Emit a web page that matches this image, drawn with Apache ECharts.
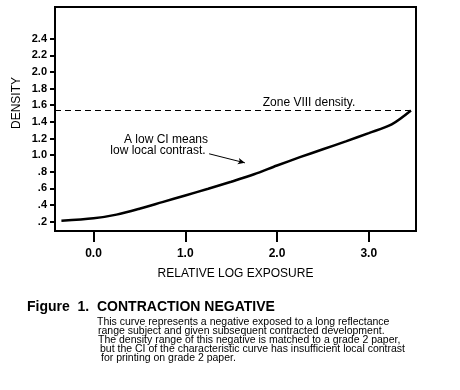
<!DOCTYPE html>
<html><head><meta charset="utf-8">
<script src="https://cdn.jsdelivr.net/npm/echarts@6/dist/echarts.min.js"></script>
<style>html,body{margin:0;padding:0;background:#fff}#c{width:460px;height:390px}</style>
</head><body><div id="c"></div>
<script>
const logExposure = [-0.35, 0.0, 0.25, 0.5, 0.75, 1.0, 1.25, 1.5, 1.75, 2.0, 2.25, 2.5, 2.75, 3.0, 3.25, 3.46];
const density     = [0.21, 0.24, 0.285, 0.355, 0.435, 0.515, 0.595, 0.68, 0.77, 0.875, 0.975, 1.07, 1.165, 1.265, 1.37, 1.537];
const xTicks = [0, 1, 2, 3];
const yTicks = [0.2, 0.4, 0.6, 0.8, 1.0, 1.2, 1.4, 1.6, 1.8, 2.0, 2.2, 2.4];
const zoneVIII = 1.537;
const arrowFrom = [1.26, 1.016];
const arrowTo = [1.65, 0.907];
const captionTitle = 'Figure  1.  CONTRACTION NEGATIVE';
const captionLines = [
  'This curve represents a negative exposed to a long reflectance',
  'range subject and given subsequent contracted development.',
  'The density range of this negative is matched to a grade 2 paper,',
  'but the CI of the characteristic curve has insufficient local contrast',
  'for printing on grade 2 paper.'
];
const F = 'Liberation Sans, Arial, Helvetica, sans-serif';
const chart = echarts.init(document.getElementById('c'), null, {renderer: 'canvas'});
const graphics = [
  {type:'text', left: 27, top: 300, style:{text: captionTitle, font: 'bold 14px ' + F, fill:'#000'}},
  {type:'text', x: 17, y: 103, rotation: Math.PI/2, style:{text:'DENSITY', font:'12px ' + F, fill:'#000', align:'center', verticalAlign:'middle'}},
  {type:'text', x: 309, y: 103, style:{text:'Zone VIII density.', font:'12px ' + F, fill:'#000', align:'center', verticalAlign:'middle'}},
  {type:'text', x: 166, y: 140, style:{text:'A low CI means', font:'12px ' + F, fill:'#000', align:'center', verticalAlign:'middle'}},
  {type:'text', x: 158, y: 151, style:{text:'low local contrast.', font:'12px ' + F, fill:'#000', align:'center', verticalAlign:'middle'}}
];
const indents = [97, 98, 98, 100, 101];
captionLines.forEach((t, i) => {
  graphics.push({type:'text', x: indents[i], y: 322 + i * 9.1, style:{text: t, font: '10.5px ' + F, fill:'#000', verticalAlign:'middle'}});
});
chart.setOption({
  animation: false,
  backgroundColor: '#fff',
  grid: {left: 55, right: 44, top: 7, bottom: 159, show: true, borderColor: '#000', borderWidth: 2, backgroundColor: 'transparent'},
  xAxis: {
    type: 'value', min: -0.42, max: 3.515,
    name: 'RELATIVE LOG EXPOSURE', nameLocation: 'middle', nameGap: 37,
    nameTextStyle: {fontFamily: F, fontSize: 12, color: '#000'},
    axisLine: {show: false, onZero: false},
    splitLine: {show: false},
    axisTick: {show: true, length: 11, customValues: xTicks, lineStyle: {color: '#000', width: 2}},
    axisLabel: {customValues: xTicks, margin: 17, fontFamily: F, fontSize: 12, fontWeight: 'bold', color: '#000', formatter: v => v.toFixed(1)}
  },
  yAxis: {
    type: 'value', min: 0.088, max: 2.78,
    axisLine: {show: false, onZero: false},
    splitLine: {show: false},
    axisTick: {show: true, length: 5, customValues: yTicks, lineStyle: {color: '#000', width: 2}},
    axisLabel: {customValues: yTicks, margin: 8, fontFamily: F, fontSize: 11, fontWeight: 'bold', color: '#000',
      formatter: v => v >= 1 ? v.toFixed(1) : '.' + Math.round(v * 10)}
  },
  series: [{
    type: 'line', data: logExposure.map((x, i) => [x, density[i]]),
    smooth: 0.3, symbol: 'none', lineStyle: {color: '#000', width: 2.5},
    markLine: {
      silent: true, animation: false,
      data: [
        [{coord: [-0.42, zoneVIII], symbol: 'none', lineStyle: {type: [6, 4], width: 1, color: '#000'}},
         {coord: [3.515, zoneVIII], symbol: 'none'}],
        [{coord: arrowFrom, symbol: 'none', lineStyle: {type: 'solid', width: 1, color: '#000'}},
         {coord: arrowTo, symbol: 'arrow', symbolSize: [5, 7]}]
      ],
      label: {show: false}
    }
  }],
  graphic: graphics
});
</script></body></html>
